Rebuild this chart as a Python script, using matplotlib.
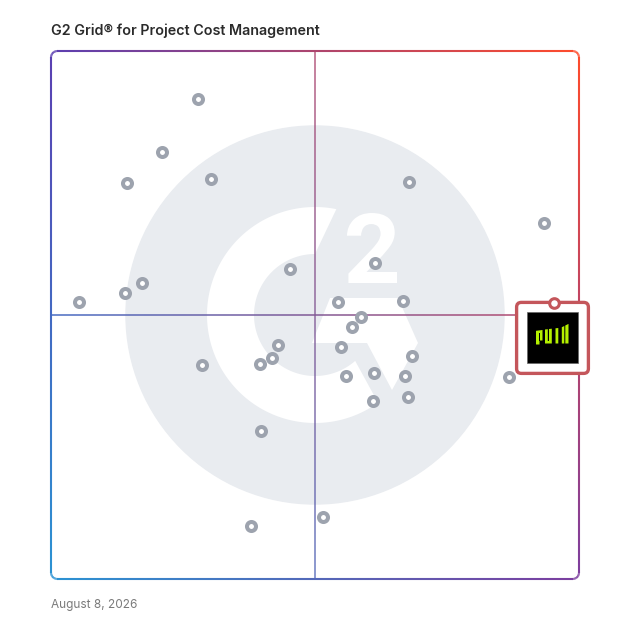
import numpy as np
import matplotlib
matplotlib.use('Agg')
import matplotlib.pyplot as plt
from matplotlib.collections import LineCollection
from matplotlib.patches import Circle, Polygon, FancyBboxPatch, PathPatch, Rectangle
from matplotlib.textpath import TextPath
from matplotlib.font_manager import FontProperties
from matplotlib.transforms import Affine2D
from matplotlib.colors import to_rgb

title = 'G2 Grid® for Project Cost Management'
date_text = 'August 8, 2026'

# satisfaction (x) and market presence (y), 0-100 scale
sat = [27.8, 21.0, 14.4, 30.3, 67.8, 93.4, 45.3, 61.4, 5.3, 14.0,
       17.2, 54.4, 66.6, 58.7, 57.1, 43.0, 54.9, 68.4, 28.6, 39.5,
       41.8, 55.9, 61.2, 67.0, 61.0, 67.7, 86.8, 39.8, 37.9, 51.6]
pres = [90.9, 80.9, 75.0, 75.7, 75.1, 67.4, 58.7, 59.8, 52.5, 54.2,
        56.0, 52.4, 52.7, 49.6, 47.7, 44.3, 43.9, 42.3, 40.5, 40.7,
        41.9, 38.5, 39.0, 38.4, 33.8, 34.4, 38.3, 28.0, 10.0, 11.8]

# highlighted product
hl_sat, hl_pres = 95.3, 52.3

# corner colours of the grid border
c_tl = np.array(to_rgb('#5b3fb1'))
c_tr = np.array(to_rgb('#ff4b2b'))
c_bl = np.array(to_rgb('#2b93d3'))
c_br = np.array(to_rgb('#7c3e9f'))


def grad_color(x, y):
    u, v = x / 100.0, y / 100.0
    return (c_tl * (1 - u) * v + c_tr * u * v +
            c_bl * (1 - u) * (1 - v) + c_br * u * (1 - v))


def grad_line(ax, pts, lw, alpha=1.0, z=2):
    pts = np.asarray(pts)
    segs = np.stack([pts[:-1], pts[1:]], axis=1)
    mid = (pts[:-1] + pts[1:]) / 2
    cols = [tuple(grad_color(mx, my)) + (alpha,) for mx, my in mid]
    lc = LineCollection(segs, colors=cols, linewidths=lw, capstyle='butt',
                        zorder=z, clip_on=False)
    ax.add_collection(lc)


PX = 5.28  # pixels per grid unit


def px(x, y):
    return ((x - 51) / PX, (579 - y) / PX)


fig = plt.figure(figsize=(6.28, 6.28), dpi=100)
ax = fig.add_axes([51 / 628, 49 / 628, 528 / 628, 528 / 628])
ax.set_xlim(0, 100)
ax.set_ylim(0, 100)
ax.set_aspect('equal')
ax.axis('off')

# G2 watermark
cx, cy = 50, 50
ax.add_patch(Circle((cx, cy), 35.8, color='#e9ecf0', zorder=0, clip_on=False))
R, r = 108 / PX, 61 / PX
th_o = np.radians(np.linspace(78.6, 305.7, 200))
th_i = np.radians(np.linspace(311.2, 90, 200))
ring = np.concatenate([np.c_[cx + R * np.cos(th_o), cy + R * np.sin(th_o)],
                       np.c_[cx + r * np.cos(th_i), cy + r * np.sin(th_i)]])
ax.add_patch(Polygon(ring, closed=True, color='white', zorder=1, lw=0))
chevron = [px(312, 343), px(330, 298), px(398, 298), px(418, 343),
           px(392, 390), px(367, 343)]
ax.add_patch(Polygon(chevron, closed=True, color='white', zorder=1, lw=0))
tp = TextPath((0, 0), '2', size=1, prop=FontProperties(family='Roboto', weight='bold'))
ext = tp.get_extents()
x0, y0 = px(347, 283)
x1, y1 = px(397, 213)
tr = (Affine2D().translate(-ext.x0, -ext.y0)
      .scale((x1 - x0) / ext.width, (y1 - y0) / ext.height)
      .translate(x0, y0))
ax.add_patch(PathPatch(tr.transform_path(tp), color='white', lw=0, zorder=1))

# quadrant lines
t = np.linspace(0, 100, 200)
grad_line(ax, np.c_[t, np.full_like(t, 50)], 1.2, alpha=0.9, z=2)
grad_line(ax, np.c_[np.full_like(t, 50), t], 1.2, alpha=0.8, z=2)

# products
ax.scatter(sat, pres, s=42, facecolor='white', edgecolor='#9da3ae',
           linewidths=2.9, zorder=3, clip_on=False)

# border
rc = 1.2
pts = []
for (ax0, ay0), (a0, a1) in [((100 - rc, 100 - rc), (0, 90)), ((rc, 100 - rc), (90, 180)),
                             ((rc, rc), (180, 270)), ((100 - rc, rc), (270, 360))]:
    a = np.radians(np.linspace(a0, a1, 12))
    pts.append(np.c_[ax0 + rc * np.cos(a), ay0 + rc * np.sin(a)])
border = []
for i in range(4):
    arc = pts[i]
    nxt = pts[(i + 1) % 4]
    border.append(arc)
    seg = np.linspace(arc[-1], nxt[0], 150)
    border.append(seg)
border.append(pts[0][:1])
grad_line(ax, np.concatenate(border), 1.5, z=4)

# highlighted product box
bx0, by0 = px(516.6, 373.4)
bx1, by1 = px(588.4, 302.4)
ax.add_patch(FancyBboxPatch((bx0, by0), bx1 - bx0, by1 - by0,
                            boxstyle='round,pad=0,rounding_size=0.9',
                            facecolor='white', edgecolor='#c4565b', lw=2.4,
                            zorder=5, clip_on=False))
lx0, ly0 = px(526.7, 363.3)
lx1, ly1 = px(578.3, 311.7)
ax.add_patch(Rectangle((lx0, ly0), lx1 - lx0, ly1 - ly0, facecolor='black',
                       edgecolor='#666666', lw=0.5, zorder=6, clip_on=False))
lime = '#b4f000'
logo = [
    [(536, 344.5), (536, 330.8), (542.5, 330), (542.5, 340.5), (539.5, 340.5), (539.5, 344.5)],
    [(545, 343.5), (545, 329.5), (547.8, 329.2), (547.8, 341), (549, 341), (549, 329),
     (551.8, 328.7), (551.8, 343.5)],
    [(555.5, 343.5), (555.5, 328.3), (558.3, 328), (558.3, 343.5)],
    [(561.8, 343.5), (561.8, 327.2), (564.3, 326), (564.3, 343.5)],
    [(565.3, 343.5), (565.3, 325.5), (568.5, 323.9), (568.5, 343.5)],
]
for shape in logo:
    ax.add_patch(Polygon([px(*p) for p in shape], closed=True, color=lime, lw=0,
                         zorder=7, clip_on=False))
gx0, gy0 = px(539.4, 340.5)
gx1, gy1 = px(540.2, 333)
ax.add_patch(Rectangle((gx0, gy0), gx1 - gx0, gy1 - gy0, color='black', lw=0,
                       zorder=8, clip_on=False))
ax.scatter([hl_sat], [hl_pres], s=48, facecolor='white', edgecolor='#c4565b',
           linewidths=2.2, zorder=9, clip_on=False)

fig.text(51 / 628, 1 - 35 / 628, title, fontsize=10.3, fontweight='semibold',
         family='Inter', color='#2b2b2b', va='baseline', ha='left')
fig.text(51 / 628, 1 - 608 / 628, date_text, fontsize=8.5, family='Inter',
         color='#7a7a7a', va='baseline', ha='left')

fig.savefig('out.png', dpi=100, facecolor='white')
